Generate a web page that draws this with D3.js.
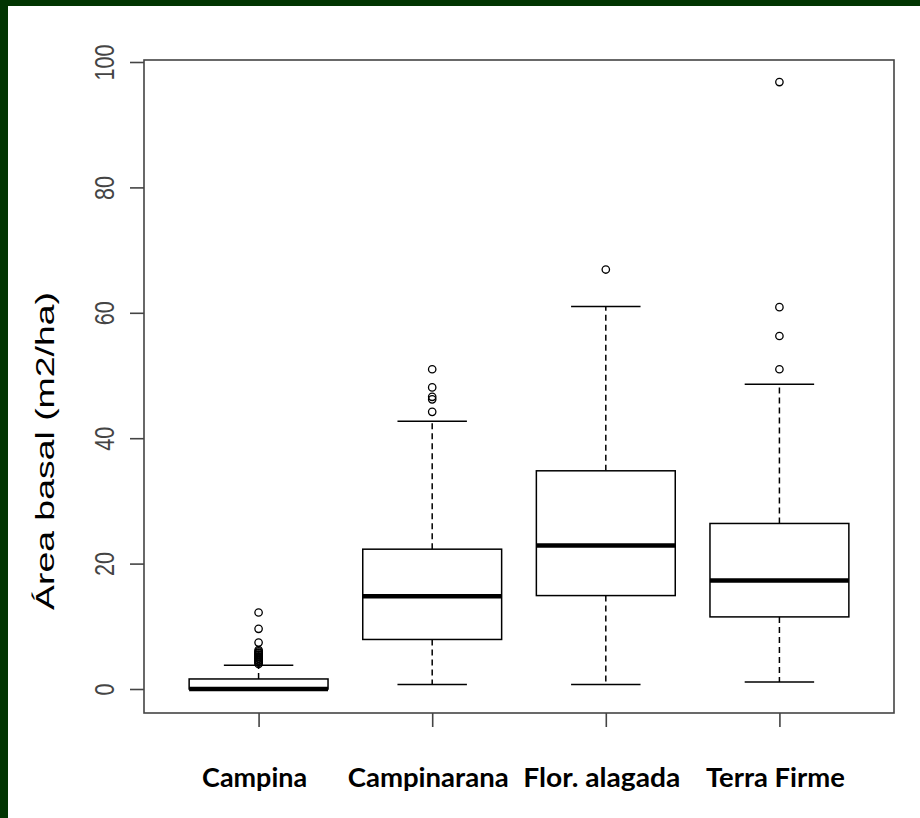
<!DOCTYPE html>
<html>
<head>
<meta charset="utf-8">
<script src="https://cdn.jsdelivr.net/npm/d3@7"></script>
<style>
  html, body { margin: 0; padding: 0; background: #fff; }
  svg { display: block; }
</style>
</head>
<body>
<div id="chart"></div>
<script>
// categories and box stats
var categories = ["Campina", "Campinarana", "Flor. alagada", "Terra Firme"];
var whiskerLow = [0, 0.7, 0.7, 1.1];
var q1 = [0, 7.9, 14.9, 11.5];
var medians = [0, 14.8, 22.9, 17.3];
var q3 = [1.6, 22.3, 34.8, 26.4];
var whiskerHigh = [3.8, 42.7, 61.0, 48.6];
var outliers = [
  [12.2, 9.6, 7.4, 6.2, 6.0, 5.8, 5.7, 5.5, 5.4, 5.2, 5.1, 4.9, 4.8, 4.6, 4.5, 4.3, 4.2, 4.0],
  [51.0, 48.1, 46.6, 46.2, 44.2],
  [66.9],
  [96.8, 60.9, 56.3, 51.0]
];
var yTicks = [0, 20, 40, 60, 80, 100];
var yLabel = "Área basal (m2/ha)";

var W = 920, H = 818;
var plot = { left: 144, right: 894, top: 60, bottom: 713 };

var svg = d3.select("#chart").append("svg")
    .attr("width", W)
    .attr("height", H);

svg.append("rect").attr("width", W).attr("height", H).attr("fill", "#fff");
// dark green frame (top + left only)
svg.append("rect").attr("x", 0).attr("y", 0).attr("width", W).attr("height", 6).attr("fill", "#023502");
svg.append("rect").attr("x", 0).attr("y", 0).attr("width", 8).attr("height", H).attr("fill", "#023502");

// scales, R style: 0.5..4.5 extended by 4%
var x = d3.scaleLinear().domain([0.34, 4.66]).range([plot.left, plot.right]);
var y = d3.scaleLinear().domain([0, 100]).range([689, 62]);

var boxes = categories.map(function (c, i) {
  return { name: c, pos: i + 1, lo: whiskerLow[i], q1: q1[i], med: medians[i],
           q3: q3[i], hi: whiskerHigh[i], out: outliers[i] };
});

// plot frame
svg.append("rect")
    .attr("x", plot.left).attr("y", plot.top)
    .attr("width", plot.right - plot.left).attr("height", plot.bottom - plot.top)
    .attr("fill", "none").attr("stroke", "#444").attr("stroke-width", 1.6);

// y axis
var yAxis = svg.append("g")
    .attr("transform", "translate(" + plot.left + ",0)")
    .call(d3.axisLeft(y).tickValues(yTicks).tickSize(14).tickPadding(0).tickFormat(d3.format("d")));
yAxis.select(".domain").remove();
yAxis.selectAll(".tick line").attr("stroke", "#444").attr("stroke-width", 1.6);
yAxis.selectAll(".tick text")
    .attr("x", null).attr("dy", null)
    .attr("text-anchor", "middle")
    .attr("fill", "#444")
    .style("font-family", "'Liberation Sans', Arial, sans-serif")
    .style("font-size", "27px")
    .attr("transform", "translate(-37,0) rotate(-90) scale(0.8,1)")
    .attr("dominant-baseline", "middle");

// x axis ticks
var xAxis = svg.append("g")
    .attr("transform", "translate(0," + plot.bottom + ")")
    .call(d3.axisBottom(x).tickValues(boxes.map(function (d) { return d.pos; })).tickSize(14).tickFormat(""));
xAxis.select(".domain").remove();
xAxis.selectAll(".tick line").attr("stroke", "#444").attr("stroke-width", 1.6);

// category labels
var labelWidths = [105, 161, 157, 139];
svg.append("g").selectAll("text")
    .data(boxes)
    .enter().append("text")
    .attr("x", function (d) { return x(d.pos) - 4; })
    .attr("y", 787)
    .attr("text-anchor", "middle")
    .attr("textLength", function (d, i) { return labelWidths[i]; })
    .attr("lengthAdjust", "spacingAndGlyphs")
    .style("font-family", "Lato, 'Open Sans', sans-serif")
    .style("font-weight", "bold")
    .style("font-size", "26px")
    .attr("fill", "#000")
    .text(function (d) { return d.name; });

// y axis title
svg.append("text")
    .attr("transform", "translate(54,451) rotate(-90)")
    .attr("text-anchor", "middle")
    .attr("textLength", 318)
    .attr("lengthAdjust", "spacingAndGlyphs")
    .style("font-family", "'Liberation Sans', Arial, sans-serif")
    .style("font-size", "25px")
    .attr("fill", "#000")
    .text(yLabel);

// boxplots
var half = 0.4, staple = 0.2;
var g = svg.append("g").selectAll("g.box")
    .data(boxes)
    .enter().append("g").attr("class", "box");

// whiskers (dashed)
g.append("line")
    .attr("x1", function (d) { return x(d.pos); }).attr("x2", function (d) { return x(d.pos); })
    .attr("y1", function (d) { return y(d.q3); }).attr("y2", function (d) { return y(d.hi); })
    .attr("stroke", "#000").attr("stroke-width", 1.5).attr("stroke-dasharray", "6,4");
g.append("line")
    .attr("x1", function (d) { return x(d.pos); }).attr("x2", function (d) { return x(d.pos); })
    .attr("y1", function (d) { return y(d.q1); }).attr("y2", function (d) { return y(d.lo); })
    .attr("stroke", "#000").attr("stroke-width", 1.5).attr("stroke-dasharray", "6,4");

// staples
["hi", "lo"].forEach(function (k) {
  g.append("line")
      .attr("x1", function (d) { return x(d.pos - staple); }).attr("x2", function (d) { return x(d.pos + staple); })
      .attr("y1", function (d) { return y(d[k]); }).attr("y2", function (d) { return y(d[k]); })
      .attr("stroke", "#000").attr("stroke-width", 1.5);
});

// box
g.append("rect")
    .attr("x", function (d) { return x(d.pos - half); })
    .attr("width", function (d) { return x(d.pos + half) - x(d.pos - half); })
    .attr("y", function (d) { return y(d.q3); })
    .attr("height", function (d) { return y(d.q1) - y(d.q3); })
    .attr("fill", "#fff").attr("stroke", "#000").attr("stroke-width", 1.5);

// median
g.append("line")
    .attr("x1", function (d) { return x(d.pos - half); }).attr("x2", function (d) { return x(d.pos + half); })
    .attr("y1", function (d) { return y(d.med); }).attr("y2", function (d) { return y(d.med); })
    .attr("stroke", "#000").attr("stroke-width", 4.5);

// outliers
g.selectAll("circle")
    .data(function (d) { return d.out.map(function (v) { return { pos: d.pos, v: v }; }); })
    .enter().append("circle")
    .attr("cx", function (d) { return x(d.pos); })
    .attr("cy", function (d) { return y(d.v); })
    .attr("r", 3.7)
    .attr("fill", "none").attr("stroke", "#000").attr("stroke-width", 1.3);
</script>
</body>
</html>
